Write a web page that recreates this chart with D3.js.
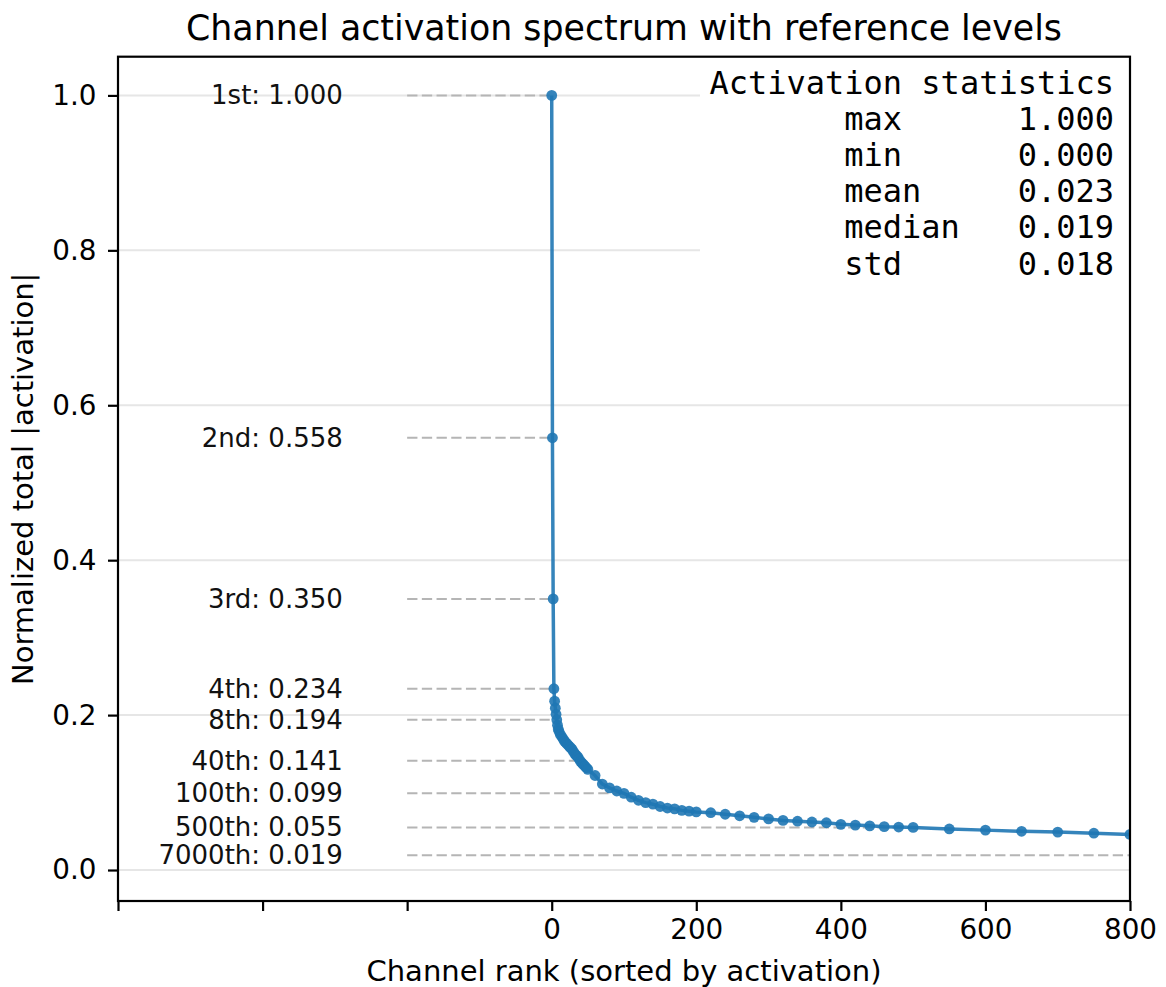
<!DOCTYPE html>
<html>
<head>
<meta charset="utf-8">
<script src="https://cdn.jsdelivr.net/npm/d3@7"></script>
<style>
  body { margin: 0; background: #fff; }
  svg { display: block; font-family: "DejaVu Sans", sans-serif; }
</style>
</head>
<body>
<svg id="chart" width="1166" height="987"></svg>
<script>
// ---- data ----
const ranks = [0,1,2,3,4,5,6,7,8,9,
  10,12,14,16,18,20,22,24,26,28,30,32,34,36,38,40,42,44,46,48,
  50,60,70,80,90,100,110,120,130,140,150,160,170,180,190,200,
  220,240,260,280,300,320,340,360,380,400,420,440,460,480,500,
  550,600,650,700,750,800,850];
const values = [1.000,0.558,0.350,0.234,0.218,0.209,0.201,0.194,0.187,0.182,
  0.179,0.175,0.172,0.169,0.166,0.164,0.162,0.160,0.158,0.156,0.153,0.150,0.148,0.146,0.143,0.140,0.138,0.136,0.134,0.132,
  0.130,0.122,0.111,0.106,0.102,0.099,0.094,0.090,0.087,0.085,0.082,0.080,0.079,0.077,0.076,0.075,
  0.074,0.072,0.070,0.068,0.066,0.064,0.063,0.062,0.061,0.059,0.058,0.057,0.056,0.0555,0.055,
  0.053,0.0515,0.050,0.049,0.0475,0.046,0.045];

const refLabels = ["1st","2nd","3rd","4th","8th","40th","100th","500th","7000th"];
const refRanks  = [0,1,2,3,7,39,99,499,6999];
const refValues = [1.000,0.558,0.350,0.234,0.194,0.141,0.099,0.055,0.019];

const statTitle  = "Activation statistics";
const statNames  = ["max","min","mean","median","std"];
const statValues = [1.000,0.000,0.023,0.019,0.018];

const xTicks = [-600,-400,-200,0,200,400,600,800];
const xTickLabels = ["","","","0","200","400","600","800"];
const yTicks = [0.0,0.2,0.4,0.6,0.8,1.0];

const titleText = "Channel activation spectrum with reference levels";
const xLabelText = "Channel rank (sorted by activation)";
const yLabelText = "Normalized total |activation|";

// ---- layout ----
const L = 118, R = 1130, T = 56.7, B = 901;
const blue = "#1f77b4";
const svg = d3.select("#chart");

const x = d3.scaleLinear().domain([-600, 800]).range([L, R]);
const y = d3.scaleLinear().domain([-0.04, 1.05]).range([B, T]);

svg.append("defs").append("clipPath").attr("id", "clip")
  .append("rect").attr("x", L).attr("y", T).attr("width", R - L).attr("height", B - T);

// grid
svg.append("g").selectAll("line").data(yTicks).join("line")
  .attr("x1", L).attr("x2", R)
  .attr("y1", d => y(d)).attr("y2", d => y(d))
  .attr("stroke", "#e6e6e6").attr("stroke-width", 2);

const plot = svg.append("g").attr("clip-path", "url(#clip)");

// reference dashed lines
plot.append("g").selectAll("line").data(refRanks).join("line")
  .attr("x1", x(-200)).attr("x2", d => x(d))
  .attr("y1", (d, i) => y(refValues[i])).attr("y2", (d, i) => y(refValues[i]))
  .attr("stroke", "#b5b5b5").attr("stroke-width", 2)
  .attr("stroke-dasharray", "10.3,4.4");

// reference labels
svg.append("g").selectAll("text").data(refLabels).join("text")
  .attr("x", x(-289)).attr("y", (d, i) => y(refValues[i]))
  .attr("text-anchor", "end").attr("dominant-baseline", "central")
  .attr("font-size", 26).attr("fill", "#111")
  .text((d, i) => `${d}: ${refValues[i].toFixed(3)}`);

// curve
const pts = ranks.map((r, i) => [r, values[i]]);
plot.append("path").datum(pts)
  .attr("d", d3.line().x(d => x(d[0])).y(d => y(d[1])))
  .attr("fill", "none").attr("stroke", blue).attr("stroke-width", 3.5)
  .attr("stroke-opacity", 0.9).attr("stroke-linejoin", "round");
plot.append("g").selectAll("circle").data(pts).join("circle")
  .attr("cx", d => x(d[0])).attr("cy", d => y(d[1])).attr("r", 5.4)
  .attr("fill", blue).attr("fill-opacity", 0.9);

// stats box
const statLines = [statTitle].concat(statNames.map((n, i) => n.padEnd(9, " ") + statValues[i].toFixed(3)));
svg.append("rect").attr("x", 700).attr("y", 62).attr("width", R - 700 - 1).attr("height", 232)
  .attr("fill", "#fff");
svg.append("g").selectAll("text").data(statLines).join("text")
  .attr("x", 1114).attr("y", (d, i) => 94 + i * 36.1)
  .attr("text-anchor", "end")
  .attr("font-family", "'DejaVu Sans Mono', monospace")
  .attr("font-size", 32).attr("fill", "#000")
  .style("white-space", "pre")
  .text(d => d);

// frame
svg.append("rect").attr("x", L).attr("y", T).attr("width", R - L).attr("height", B - T)
  .attr("fill", "none").attr("stroke", "#000").attr("stroke-width", 2.2);

// axes
const xAxis = svg.append("g").attr("transform", `translate(0,${B})`)
  .call(d3.axisBottom(x).tickValues(xTicks).tickFormat((d, i) => xTickLabels[i]).tickSize(10).tickSizeOuter(0).tickPadding(8));
const yAxis = svg.append("g").attr("transform", `translate(${L},0)`)
  .call(d3.axisLeft(y).tickValues(yTicks).tickFormat(d3.format(".1f")).tickSize(10).tickSizeOuter(0).tickPadding(11.5));
[xAxis, yAxis].forEach(g => {
  g.select(".domain").remove();
  g.selectAll(".tick line").attr("stroke", "#000").attr("stroke-width", 2.2);
  g.selectAll(".tick text").attr("font-size", 27.8).attr("fill", "#000")
    .attr("font-family", "'DejaVu Sans', sans-serif");
});

// titles
svg.append("text").attr("x", (L + R) / 2).attr("y", 40).attr("text-anchor", "middle")
  .attr("font-size", 34.8).attr("fill", "#000").text(titleText);
svg.append("text").attr("x", (L + R) / 2).attr("y", 981).attr("text-anchor", "middle")
  .attr("font-size", 29).attr("fill", "#000").text(xLabelText);
svg.append("text").attr("transform", `translate(33,${(T + B) / 2}) rotate(-90)`)
  .attr("text-anchor", "middle").attr("font-size", 29).attr("fill", "#000").text(yLabelText);
</script>
</body>
</html>
